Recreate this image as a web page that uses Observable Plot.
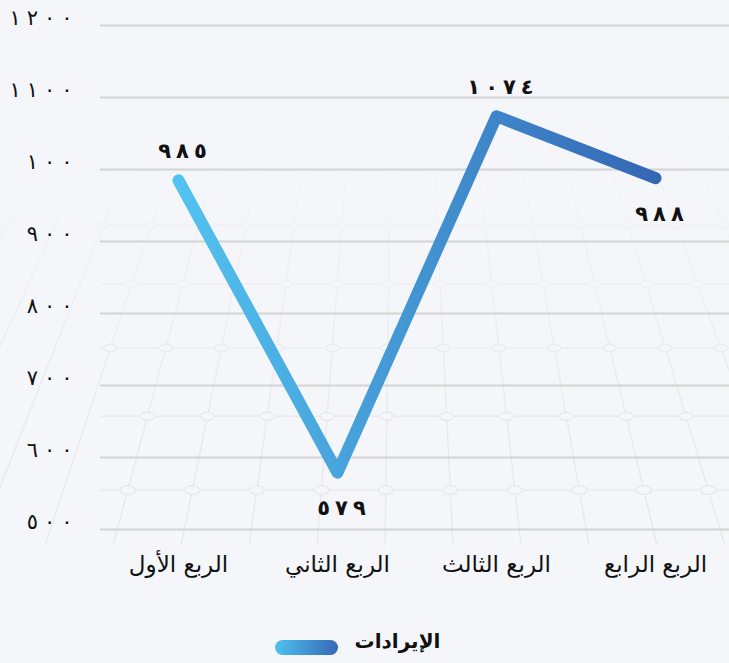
<!DOCTYPE html>
<html><head><meta charset="utf-8">
<script src="https://cdn.jsdelivr.net/npm/d3@7"></script>
<script src="https://cdn.jsdelivr.net/npm/@observablehq/plot@0.6"></script>
<style>
html,body{margin:0;padding:0;background:#f4f6fa;}
#wrap{width:729px;height:663px;position:relative;overflow:hidden;background:#f4f6fa;}
#bg{position:absolute;left:0;top:0;}
#chart{position:absolute;left:0;top:0;}
#legend{position:absolute;left:0;top:626px;width:729px;display:flex;justify-content:center;align-items:center;gap:17px;direction:ltr;padding-right:14px;box-sizing:border-box;}
#legend .sw{width:63px;height:15px;border-radius:8px;background:linear-gradient(90deg,#4fc1ee,#3569b5);margin-top:14px;}
#legend .tx{font:bold 20px "DejaVu Sans",sans-serif;color:#111;}
</style></head><body><div id="wrap"><svg id="bg" width="729" height="600"></svg><div id="chart"></div><div id="legend"><div class="sw"></div><div class="tx"></div></div></div>
<script>
const quarters = ["الربع الأول","الربع الثاني","الربع الثالث","الربع الرابع"];
const revenue = [985, 579, 1074, 988];
const valueLabels = ["٩٨٥","٥٧٩","١٠٧٤","٩٨٨"];
const labelSide = ["top","bottom","top","bottom"];
const yTicks = [500,600,700,800,900,1000,1100,1200];
const yTickLabels = ["٥٠٠","٦٠٠","٧٠٠","٨٠٠","٩٠٠","١٠٠","١١٠٠","١٢٠٠"];
const seriesName = "الإيرادات";

document.querySelector("#legend .tx").textContent = seriesName;

// faint perspective background decoration
(function(){
  const bg = d3.select("#bg");
  const defs = bg.append("defs");
  const lg = defs.append("linearGradient").attr("id","fade").attr("x1",0).attr("x2",0).attr("y1",0).attr("y2",1);
  lg.append("stop").attr("offset","0").attr("stop-color","#fff").attr("stop-opacity",0);
  lg.append("stop").attr("offset","0.35").attr("stop-color","#fff").attr("stop-opacity",0.2);
  lg.append("stop").attr("offset","0.8").attr("stop-color","#fff").attr("stop-opacity",1);
  defs.append("mask").attr("id","fm").append("rect").attr("width",729).attr("height",545).attr("fill","url(#fade)");
  const g = bg.append("g").attr("mask","url(#fm)").attr("stroke","#e6e8ec").attr("stroke-width",1.3).attr("fill","none");
  const vx = 400, vy = -530;
  const ys = [];
  for (let y = 120; y < 545; y = y + (y - vy) * 0.078) ys.push(y);
  const refY = 419, sp = 60;
  for (let k = -9; k <= 9; k++) {
    const xr = vx + sp * (k + 0.78);
    g.append("line").attr("x1", vx + (xr - vx) * (120 - vy)/(refY - vy)).attr("y1",120)
      .attr("x2", vx + (xr - vx) * (545 - vy)/(refY - vy)).attr("y2", 545);
  }
  ys.forEach(y => {
    g.append("line").attr("x1",100).attr("x2",729).attr("y1",y).attr("y2",y);
    for (let k = -9; k <= 9; k++) {
      const xr = vx + sp * (k + 0.78);
      const s = (y - vy)/(refY - vy);
      const x = vx + (xr - vx) * s;
      if (x > 95 && x < 740) g.append("ellipse").attr("cx",x).attr("cy",y).attr("rx",7*s).attr("ry",4*s).attr("fill","#f4f6fa");
    }
  });
})();

const data = quarters.map((q,i)=>({q, v: revenue[i], label: valueLabels[i], side: labelSide[i]}));
const font = "'DejaVu Sans', sans-serif";

const chart = Plot.plot({
  width: 729,
  height: 600,
  marginTop: 25,
  marginBottom: 71,
  marginLeft: 100,
  marginRight: 0,
  style: {background: "transparent", fontFamily: font, color: "#111", overflow: "visible"},
  x: {type: "point", domain: quarters, range: [177, 656], padding: 0, label: null},
  y: {domain: [500, 1200], label: null},
  marks: [
    Plot.ruleY(yTicks, {stroke: "#d3d3d3", strokeWidth: 2.2, strokeOpacity: 1}),
    Plot.axisY({ticks: yTicks, tickFormat: d => yTickLabels[yTicks.indexOf(d)], tickSize: 0, tickPadding: 30, fontSize: 21, dy: -7, dx: 2, label: null}),
    Plot.axisX({tickSize: 0, tickPadding: 26, fontSize: 23, label: null}),
    Plot.line(data, {x: "q", y: "v", stroke: "url(#revGrad)", strokeWidth: 12, strokeLinecap: "round", strokeLinejoin: "round"}),
    Plot.text(data.filter(d=>d.side==="top"), {x: "q", y: "v", text: "label", dx: 4, dy: -29, fontSize: 21, fontWeight: "bold", fill: "#111"}),
    Plot.text(data.filter(d=>d.side==="bottom"), {x: "q", y: "v", text: "label", dx: 4, dy: 36, fontSize: 21, fontWeight: "bold", fill: "#111"})
  ]
});
const sel = d3.select(chart);
const defs = sel.insert("defs", ":first-child");
const g = defs.append("linearGradient").attr("id","revGrad").attr("gradientUnits","objectBoundingBox").attr("x1",0).attr("x2",1).attr("y1",0).attr("y2",0);
g.append("stop").attr("offset","0%").attr("stop-color","#52c3f0");
g.append("stop").attr("offset","100%").attr("stop-color","#3466b4");

function spread(selection, gap) {
  selection.each(function() {
    const t = d3.select(this);
    const s = this.textContent;
    t.text(null);
    Array.from(s).forEach((ch, i) => {
      t.append("tspan").attr("dx", i === 0 ? null : gap).text(ch);
    });
  });
}
spread(sel.selectAll('g[aria-label="y-axis tick label"] text'), 6);
spread(sel.selectAll('g[aria-label="text"] text'), 5);
document.getElementById("chart").append(chart);
</script></body></html>
